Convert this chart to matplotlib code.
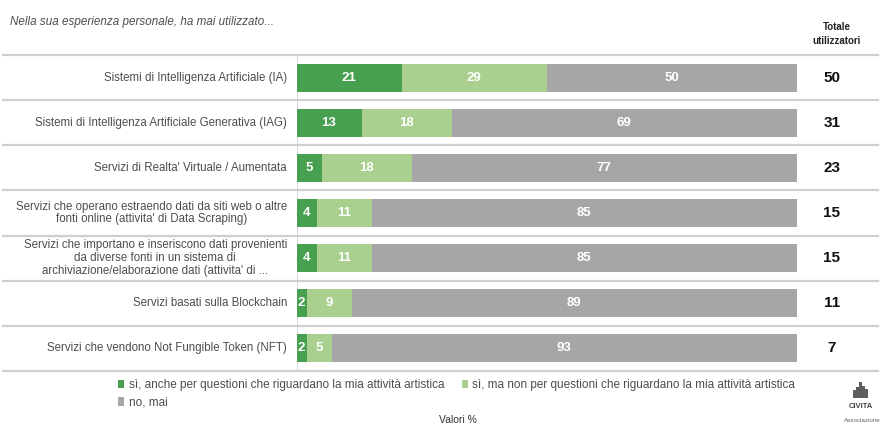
import numpy as np
import matplotlib
matplotlib.use("Agg")
import matplotlib.pyplot as plt
import matplotlib.transforms as mtransforms
from matplotlib.patches import Patch, Rectangle

plt.rcParams["font.family"] = ["Liberation Sans", "DejaVu Sans"]

# ── Data (valori %) ───────────────────────────────────────────────────────────
categories = [
    "Sistemi di Intelligenza Artificiale (IA)",
    "Sistemi di Intelligenza Artificiale Generativa (IAG)",
    "Servizi di Realta' Virtuale / Aumentata",
    "Servizi che operano estraendo dati da siti web o altre\nfonti online (attivita' di Data Scraping)",
    "Servizi che importano e inseriscono dati provenienti\nda diverse fonti in un sistema di\narchiviazione/elaborazione dati (attivita' di ...",
    "Servizi basati sulla Blockchain",
    "Servizi che vendono Not Fungible Token (NFT)",
]
si_artistica = [21, 13, 5, 4, 4, 2, 2]
si_non_artistica = [29, 18, 18, 11, 11, 9, 5]
no_mai = [50, 69, 77, 85, 85, 89, 93]
totale_utilizzatori = [50, 31, 23, 15, 15, 11, 7]

series_labels = [
    "sì, anche per questioni che riguardano la mia attività artistica",
    "sì, ma non per questioni che riguardano la mia attività artistica",
    "no, mai",
]
COLORS = ["#47A04F", "#A9D08E", "#A6A6A6"]
GRID = "#CFCFCF"
TXT = "#4D4D4D"

W, H = 881, 429
fig = plt.figure(figsize=(W / 100, H / 100), dpi=100)

# bar area in pixels: x 296.5 → 797, y 55 → 371 (from top)
x0, x1, y_top, y_bot = 296.5, 797.0, 55.0, 371.0
ax = fig.add_axes([x0 / W, 1 - y_bot / H, (x1 - x0) / W, (y_bot - y_top) / H])

y = np.arange(len(categories))
left = np.zeros(len(categories))
for vals, col in zip([si_artistica, si_non_artistica, no_mai], COLORS):
    vals = np.array(vals)
    ax.barh(y, vals, left=left, height=0.62, color=col, linewidth=0)
    for yi, l, v in zip(y, left, vals):
        ax.text(l + v / 2, yi, f"{v}", ha="center", va="center",
                color="white", fontsize=9.5, fontweight="bold")
    left += vals

ax.set_xlim(0, 100)
ax.set_ylim(len(categories) - 0.5, -0.5)
ax.axis("off")
ax.axvline(0, color="#DADADA", lw=0.8, zorder=0)

# category labels and totals
px = (x1 - x0) / 100.0
for yi, lab, tot in zip(y, categories, totale_utilizzatori):
    ax.text(-9.5 / px, yi, lab, ha="right", va="center", multialignment="center",
            fontsize=8.3, color=TXT, linespacing=1.1, clip_on=False)
    ax.text((832 - x0) / px, yi, f"{tot}", ha="center", va="center",
            fontsize=11, fontweight="bold", color="#111111", clip_on=False)

# horizontal separators across the whole width
trans = mtransforms.blended_transform_factory(fig.transFigure, ax.transData)
for yb in np.arange(-0.5, len(categories) + 0.5, 1.0):
    ax.plot([3 / W, 878 / W], [yb, yb], transform=trans, color=GRID,
            lw=1.6, clip_on=False, zorder=0)

# header texts
fig.text(10 / W, 1 - 22 / H, "Nella sua esperienza personale, ha mai utilizzato...",
         fontsize=8.4, style="italic", color=TXT, va="center", ha="left")
fig.text(837 / W, 1 - 33.5 / H, "Totale\nutilizzatori", fontsize=7,
         fontweight="bold", color="#222222", ha="center", va="center",
         linespacing=1.5)

# legend: order so that "no, mai" wraps under the first entry
handles = [Patch(facecolor=c, edgecolor="none") for c in COLORS]
order = [0, 2, 1]
fig.legend([handles[i] for i in order], [series_labels[i] for i in order],
           ncol=2, loc="upper left", bbox_to_anchor=(118 / W, 1 - 379 / H),
           frameon=False, fontsize=8.5, handlelength=0.55, handleheight=0.75,
           handletextpad=0.35, columnspacing=1.5, labelspacing=0.45,
           borderpad=0, borderaxespad=0, labelcolor=TXT)

fig.text(458 / W, 1 - 420 / H, "Valori %", fontsize=7.5, color="#333333",
         ha="center", va="center")

# small logo in the bottom-right corner
for bx, bh in zip([853, 856, 859, 862, 865], [8, 11, 16, 12, 9]):
    fig.add_artist(Rectangle((bx / W, 1 - 398 / H), 2.8 / W, bh / H,
                             transform=fig.transFigure, color="#5E5E5E", lw=0))
fig.text(861 / W, 1 - 406 / H, "CIVITA", fontsize=5.5, fontweight="bold",
         color="#444444", ha="center", va="center")
fig.text(862 / W, 1 - 421 / H, "Associazione", fontsize=4.5, color="#666666",
         ha="center", va="center")

fig.savefig("out.png", dpi=100)
